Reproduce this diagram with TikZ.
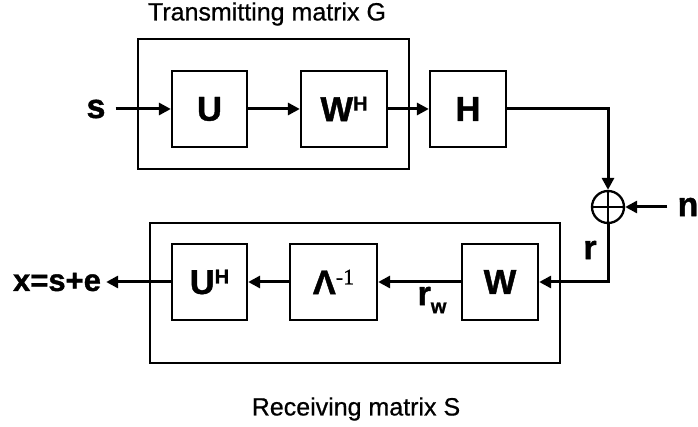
\documentclass[tikz,border=0pt]{standalone}
\usepackage{fontspec}
\setmainfont{Liberation Sans}
\newfontfamily\heavy{Liberation Sans Bold}[FakeBold=1.2]
\newfontfamily\semi{Liberation Sans}[FakeBold=0.6]
\newfontfamily\serifnum{Liberation Serif}[FakeBold=0.8]
\usetikzlibrary{arrows.meta}
\newcommand\supH{\raisebox{10.5pt}{\fontsize{20}{20}\selectfont H}}
\begin{document}
\begin{tikzpicture}[x=1pt,y=-1pt,
 blk/.style={draw,line width=2.3pt,inner sep=0pt,font=\fontsize{34.5}{34.5}\heavy,minimum height=76pt},
 frame/.style={draw,line width=2.3pt,inner sep=0pt},
 conn/.style={line width=3pt,-{Triangle[length=12pt,width=12pt]}},
 lbl/.style={inner sep=0pt,font=\fontsize{34}{34}\heavy},
 ttl/.style={inner sep=0pt,font=\fontsize{25}{25}\semi}]
\useasboundingbox (0,0) rectangle (698,427);
\node[frame,minimum width=271pt,minimum height=130pt] (G) at (273.5,104) {};
\node[frame,minimum width=410pt,minimum height=140pt] (S) at (355,293) {};
\node[ttl] (tG) at (267,14) {Transmitting matrix G};
\node[ttl] (tS) at (356,409) {Receiving matrix S};
\node[blk,minimum width=75pt] (U) at (209.5,109) {U};
\node[blk,minimum width=86pt] (WH) at (344,109) {W\supH};
\node[blk,minimum width=76pt] (H) at (468,109) {H};
\node[draw,circle,line width=2.3pt,minimum size=32pt,inner sep=0pt] (sum) at (608,207) {};
\draw[line width=2.3pt] (sum.north) -- (sum.south) (sum.west) -- (sum.east);
\node[blk,minimum width=76pt] (W) at (500,282) {W};
\node[blk,minimum width=87pt] (L) at (333.5,282) {Λ\raisebox{10pt}{\serifnum\fontsize{22}{22}\selectfont -1}};
\node[blk,minimum width=75pt] (UH) at (209.5,282) {U\supH};
\node[lbl] (s) at (96,109) {s};
\node[lbl] (n) at (688,207) {n};
\node[lbl] (r) at (590,250) {r};
\node[lbl] (rw) at (432,300) {r\raisebox{-8pt}{\fontsize{20}{20}\selectfont w}};
\node[lbl,font=\fontsize{31}{31}\heavy] (x) at (57,282) {x=s+e};
\draw[conn,shorten <=10pt] (s.east) -- (U.west);
\draw[conn] (U.east) -- (WH.west);
\draw[conn] (WH.east) -- (H.west);
\draw[conn] (H.east) -| (sum.north);
\draw[conn,shorten <=10pt] (n.west) -- (sum.east);
\draw[conn] (sum.south) |- (W.east);
\draw[conn] (W.west) -- (L.east);
\draw[conn] (L.west) -- (UH.east);
\draw[conn,shorten >=5pt] (UH.west) -- (x.east);
\end{tikzpicture}
\end{document}
